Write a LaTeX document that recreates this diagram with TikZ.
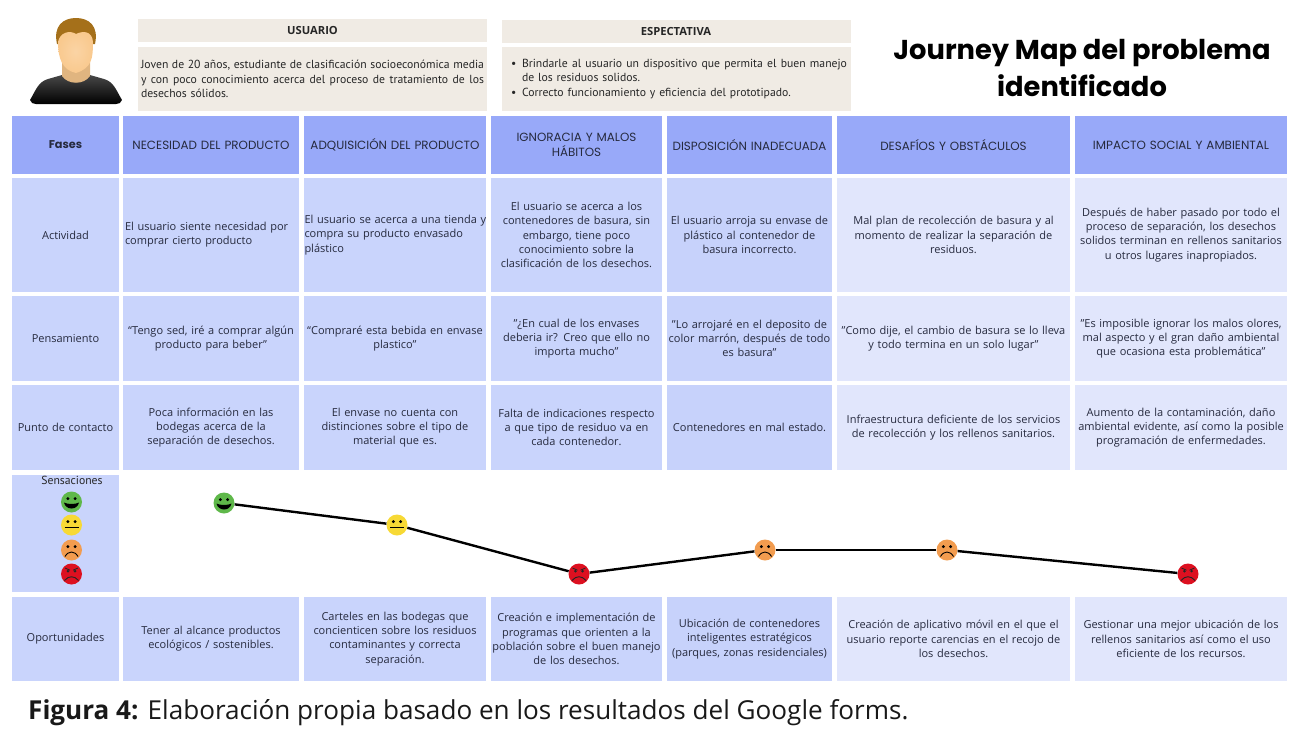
\documentclass[tikz,border=0pt]{standalone}
\usepackage{fontspec}
\setmainfont{Open Sans}
\newfontfamily\pop{Poppins}
\newfontfamily\hand{PT Sans}
\definecolor{headc}{HTML}{98A9F9}
\definecolor{cellc}{HTML}{C9D4FC}
\definecolor{midc}{HTML}{C7D2FB}
\definecolor{lightc}{HTML}{E1E6FC}
\definecolor{beigec}{HTML}{F0EBE4}
\definecolor{inkc}{HTML}{262A3E}
\definecolor{skinc}{HTML}{F9C98E}
\definecolor{hairc}{HTML}{A5701A}
\definecolor{gface}{HTML}{5FB84A}
\definecolor{yface}{HTML}{F7D935}
\definecolor{oface}{HTML}{F29C4F}
\definecolor{rface}{HTML}{DD1020}
\tikzset{
  cellbox/.style={rectangle,inner ysep=0pt,inner xsep=0.5pt,text=inkc,align=center,
    font=\fontsize{11}{14.2}\selectfont},
  headcell/.style={fill=headc,font=\pop\fontsize{11.9}{14.6}\selectfont},
  bodycell/.style={fill=cellc},
  midcell/.style={fill=midc},
  palecell/.style={fill=lightc},
  leftcell/.style={align=left},
  beigebox/.style={rectangle,fill=beigec,inner sep=0pt},
  facebase/.style={circle,inner sep=0pt,minimum size=21pt},
  trend/.style={line width=2.4pt,black},
  mark line/.style={line width=0.9pt,black},
  handtext/.style={font=\hand\fontsize{11.7}{14.6}\selectfont,text=black!85,inner sep=0pt,anchor=west},
  toplabel/.style={beigebox,minimum width=349pt,minimum height=23pt,font=\bfseries\fontsize{11.2}{12}\selectfont,text=black!85},
}
\newcommand{\cellat}[7]{%
  \pgfmathsetmacro{\cw}{#4-#2}\pgfmathsetmacro{\ch}{#5-#3}%
  \pgfmathsetmacro{\cx}{(#2+#4)/2}\pgfmathsetmacro{\cy}{(#3+#5)/2}%
  \pgfmathsetmacro{\tw}{\cw-1}%
  \node[cellbox,#6,minimum height=\ch pt,text width=\tw pt] (#1) at (\cx,\cy) {#7};}
\newcommand{\fitline}[2]{\makebox[#1][s]{\spaceskip=0.28em plus 1em minus 0.1em\relax #2}}
\newcommand{\eyes}[2]{%
  \fill[black] (#1-3.6,#2-3.4) circle (1.6pt) (#1+3.6,#2-3.4) circle (1.6pt);}
\newcommand{\happyface}[3]{\node[facebase,fill=gface] (#1) at (#2,#3) {};\eyes{#2}{#3}
  \fill[black] (#2-7.5,#3+0.5) .. controls (#2-4,#3+2.5) and (#2+4,#3+2.5) .. (#2+7.5,#3+0.5) .. controls (#2+6,#3+8.5) and (#2-6,#3+8.5) .. cycle;}
\newcommand{\neutralface}[3]{\node[facebase,fill=yface] (#1) at (#2,#3) {};\eyes{#2}{#3}
  \draw[mark line] (#2-7,#3+2.5) -- (#2+7,#3+2.5);}
\newcommand{\sadface}[3]{\node[facebase,fill=oface] (#1) at (#2,#3) {};\eyes{#2}{#3}
  \draw[mark line] (#2-6.5,#3+6.5) .. controls (#2-3,#3+0.5) and (#2+3,#3+0.5) .. (#2+6.5,#3+6.5);}
\newcommand{\angryface}[3]{\node[facebase,fill=rface] (#1) at (#2,#3) {};
  \fill[black!85] (#2-3.6,#3-2.8) circle (1.4pt) (#2+3.6,#3-2.8) circle (1.4pt);
  \draw[black!85,line width=0.8pt] (#2-6.5,#3-6) -- (#2-1.5,#3-3.8) (#2+6.5,#3-6) -- (#2+1.5,#3-3.8);
  \draw[mark line,black!85] (#2-7,#3+6.5) .. controls (#2-3,#3+1.5) and (#2+3,#3+1.5) .. (#2+7,#3+6.5);}
\begin{document}
\begin{tikzpicture}[x=1pt,y=-1pt]
\useasboundingbox (0,0) rectangle (1299,731);
% avatar
\shade[top color=black!72,bottom color=black] (30,100)
  .. controls (36,90) and (38,82) .. (48,79) -- (62,75) -- (90,75) -- (104,79)
  .. controls (114,82) and (116,90) .. (122,100) .. controls (121,103) and (119,104) .. (116,104)
  -- (36,104) .. controls (33,104) and (31,103) .. cycle;
\fill[skinc!90!black] (62,62) -- (90,62) -- (90,76) .. controls (84,85) and (68,85) .. (62,76) -- cycle;
\fill[hairc] (57,44) .. controls (53,26) and (63,18) .. (76,18) .. controls (89,18) and (99,26) .. (95,44) -- cycle;
\shade[inner color=skinc!80!white,outer color=skinc] (58,42) .. controls (60,32) and (70,30) .. (76,34)
  .. controls (82,31) and (92,30) .. (93,42) .. controls (93,58) and (92,68) .. (76,73) .. controls (62,70) and (58,58) .. cycle;
% top boxes
\node[toplabel] (usr) at (312.5,30) {USUARIO};
\node[beigebox,minimum width=349pt,minimum height=64pt,handtext,anchor=center,align=left,text width=343pt] (usrtxt) at (312.5,79)
  {\fitline{343pt}{Joven de 20 años, estudiante de clasificación socioeconómica media}\\
   \fitline{343pt}{y con poco conocimiento acerca del proceso de tratamiento de los}\\
   desechos sólidos.};
\node[toplabel] (esp) at (676,31) {ESPECTATIVA};
\node[beigebox,minimum width=349pt,minimum height=64pt,handtext,anchor=center,align=left,text width=343pt] (esptxt) at (676,79)
  {\hspace*{6.5pt}\makebox[11pt][l]{•}\fitline{325pt}{Brindarle al usuario un dispositivo que permita el buen manejo}\\
   \hspace*{17.5pt}de los residuos solidos.\\
   \hspace*{6.5pt}\makebox[11pt][l]{•}Correcto funcionamiento y eficiencia del prototipado.};
\node[font=\pop\bfseries\fontsize{27.3}{37}\selectfont,align=center,inner sep=0pt,text=black] (title) at (1082,68)
  {Journey Map del problema\\identificado};
% header row
\cellat{h0}{12}{116}{119}{174}{headcell,font=\pop\bfseries\fontsize{11.3}{14}\selectfont}{Fases}
\cellat{h1}{123}{116}{299}{174}{headcell}{NECESIDAD DEL PRODUCTO}
\cellat{h2}{304}{116}{486}{174}{headcell}{ADQUISICIÓN DEL PRODUCTO}
\cellat{h3}{491}{116}{662}{174}{headcell}{IGNORACIA Y MALOS\\HÁBITOS}
\cellat{h4}{667}{116}{832}{174}{headcell}{DISPOSICIÓN INADECUADA}
\cellat{h5}{837}{116}{1070}{174}{headcell}{DESAFÍOS Y OBSTÁCULOS}
\cellat{h6}{1075}{116}{1287}{174}{headcell}{IMPACTO SOCIAL Y AMBIENTAL}
% actividad
\cellat{a0}{12}{178}{119}{292}{bodycell}{Actividad}
\cellat{a1}{123}{178}{299}{292}{bodycell,leftcell}{\hspace*{1.5pt}El usuario siente necesidad por\\\hspace*{1.5pt}comprar cierto producto}
\cellat{a2}{304}{178}{486}{292}{bodycell,leftcell}{\mbox{El usuario se acerca a una tienda y}\\compra su producto envasado\\plástico}
\cellat{a3}{491}{178}{662}{292}{bodycell}{El usuario se acerca a los\\contenedores de basura, sin\\embargo, tiene poco\\conocimiento sobre la\\clasificación de los desechos.}
\cellat{a4}{667}{178}{832}{292}{midcell}{El usuario arroja su envase de\\plástico al contenedor de\\basura incorrecto.}
\cellat{a5}{837}{178}{1070}{292}{palecell}{Mal plan de recolección de basura y al\\momento de realizar la separación de\\residuos.}
\cellat{a6}{1075}{178}{1287}{292}{palecell}{Después de haber pasado por todo el\\proceso de separación, los desechos\\solidos terminan en rellenos sanitarios\\u otros lugares inapropiados.}
% pensamiento
\cellat{p0}{12}{296}{119}{381}{bodycell}{Pensamiento}
\cellat{p1}{123}{296}{299}{381}{bodycell}{“Tengo sed, iré a comprar algún\\producto para beber”}
\cellat{p2}{304}{296}{486}{381}{bodycell}{“Compraré esta bebida en envase\\plastico”}
\cellat{p3}{491}{296}{662}{381}{bodycell}{"¿En cual de los envases\\deberia ir? Creo que ello no\\importa mucho"}
\cellat{p4}{667}{296}{832}{381}{midcell}{"Lo arrojaré en el deposito de\\color marrón, después de todo\\es basura"}
\cellat{p5}{837}{296}{1070}{381}{palecell}{"Como dije, el cambio de basura se lo lleva\\y todo termina en un solo lugar"}
\cellat{p6}{1075}{296}{1287}{381}{palecell}{"Es imposible ignorar los malos olores,\\mal aspecto y el gran daño ambiental\\que ocasiona esta problemática"}
% punto de contacto
\cellat{c0}{12}{385}{119}{470}{bodycell}{Punto de contacto}
\cellat{c1}{123}{385}{299}{470}{bodycell}{Poca información en las\\bodegas acerca de la\\separación de desechos.}
\cellat{c2}{304}{385}{486}{470}{bodycell}{El envase no cuenta con\\distinciones sobre el tipo de\\material que es.}
\cellat{c3}{491}{385}{662}{470}{bodycell}{Falta de indicaciones respecto\\a que tipo de residuo va en\\cada contenedor.}
\cellat{c4}{667}{385}{832}{470}{midcell}{Contenedores en mal estado.}
\cellat{c5}{837}{385}{1070}{470}{palecell}{Infraestructura deficiente de los servicios\\de recolección y los rellenos sanitarios.}
\cellat{c6}{1075}{385}{1287}{470}{palecell}{Aumento de la contaminación, daño\\ambiental evidente, así como la posible\\programación de enfermedades.}
% sensaciones
\cellat{s0}{12}{475}{119}{592}{bodycell}{}
\node[handtext,anchor=center] (sens) at (72,480.5) {Sensaciones};
\happyface{l1}{71.5}{502}
\neutralface{l2}{71.5}{525}
\sadface{l3}{71.5}{550}
\angryface{l4}{71.5}{574}
\happyface{f1}{224}{503}
\neutralface{f2}{397}{525}
\angryface{f3}{579}{574}
\sadface{f4}{765}{550}
\sadface{f5}{947}{550}
\angryface{f6}{1188}{574}
\draw[trend] (f1) -- (f2);
\draw[trend] (f2) -- (f3);
\draw[trend] (f3) -- (f4);
\draw[trend] (f4) -- (f5);
\draw[trend] (f5) -- (f6);
% oportunidades
\cellat{o0}{12}{597}{119}{681}{bodycell}{Oportunidades}
\cellat{o1}{123}{597}{299}{681}{bodycell}{Tener al alcance productos\\ecológicos / sostenibles.}
\cellat{o2}{304}{597}{486}{681}{bodycell}{Carteles en las bodegas que\\concienticen sobre los residuos\\contaminantes y correcta\\separación.}
\cellat{o3}{491}{597}{662}{681}{bodycell}{Creación e implementación de\\programas que orienten a la\\población sobre el buen manejo\\de los desechos.}
\cellat{o4}{667}{597}{832}{681}{midcell}{Ubicación de contenedores\\inteligentes estratégicos\\(parques, zonas residenciales)}
\cellat{o5}{837}{597}{1070}{681}{palecell}{Creación de aplicativo móvil en el que el\\usuario reporte carencias en el recojo de\\los desechos.}
\cellat{o6}{1075}{597}{1287}{681}{palecell}{Gestionar una mejor ubicación de los\\rellenos sanitarios así como el uso\\eficiente de los recursos.}
% caption
\node[anchor=west,inner sep=0pt,font=\fontsize{26.1}{30}\selectfont,text=black!90] (cap) at (28,713)
  {\textbf{Figura 4:} Elaboración propia basado en los resultados del Google forms.};
\end{tikzpicture}
\end{document}
